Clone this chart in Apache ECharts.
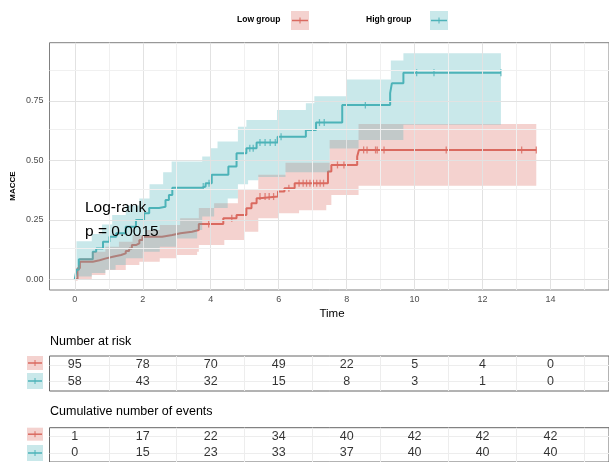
<!DOCTYPE html>
<html>
<head>
<meta charset="utf-8">
<script src="https://cdn.jsdelivr.net/npm/echarts@6.0.0/dist/echarts.min.js"></script>
<style>
  html, body { margin: 0; padding: 0; background: #fff; }
  #main { width: 609px; height: 462px; }
</style>
</head>
<body>
<div id="main"></div>
<script>
// cumulative incidence step curves [time, value]
const lowCurve = [[0,0],[0.08,0.046],[0.15,0.074],[0.53,0.08],[0.73,0.088],[0.92,0.095],[1.12,0.102],[1.36,0.109],[1.5,0.119],[1.6,0.13],[1.68,0.144],[1.8,0.151],[1.9,0.165],[1.99,0.179],[2.57,0.186],[2.87,0.194],[3.11,0.2],[3.45,0.207],[3.65,0.233],[4.37,0.257],[4.76,0.27],[5.05,0.299],[5.2,0.32],[5.35,0.341],[5.44,0.348],[5.98,0.369],[6.17,0.383],[6.47,0.404],[7.45,0.453],[7.55,0.481],[8.31,0.516],[8.36,0.544],[13.58,0.544]];
const highCurve = [[0,0],[0.05,0.04],[0.12,0.084],[0.53,0.116],[0.63,0.13],[0.83,0.158],[1.02,0.179],[1.22,0.194],[1.5,0.221],[1.8,0.249],[2.04,0.278],[2.19,0.3],[2.48,0.305],[2.67,0.334],[2.77,0.355],[2.87,0.385],[3.74,0.39],[3.85,0.404],[4.03,0.44],[4.52,0.474],[4.76,0.53],[5.05,0.551],[5.35,0.575],[5.97,0.6],[6.8,0.628],[7.1,0.659],[7.87,0.733],[9.28,0.783],[9.33,0.824],[9.67,0.869],[12.54,0.869]];

// confidence bands
const lowUpper = [[0,0],[0.1,0.06],[0.15,0.09],[0.5,0.116],[0.9,0.137],[1.3,0.158],[1.7,0.186],[2.1,0.207],[2.5,0.228],[3.1,0.257],[3.65,0.3],[4.1,0.32],[4.8,0.376],[5.4,0.44],[6.2,0.49],[7.5,0.586],[8.35,0.653],[13.58,0.653]];
const lowLower = [[0,0],[0.5,0.018],[0.9,0.039],[1.5,0.06],[1.9,0.074],[2.5,0.088],[3.0,0.102],[3.6,0.116],[3.65,0.144],[4.4,0.165],[5.0,0.2],[5.4,0.257],[6.0,0.278],[6.6,0.29],[7.4,0.312],[7.55,0.355],[8.35,0.393],[13.58,0.393]];
const highUpper = [[0,0],[0.05,0.16],[0.5,0.19],[0.8,0.23],[1.1,0.27],[1.5,0.31],[1.9,0.34],[2.2,0.4],[2.6,0.45],[2.85,0.495],[3.75,0.516],[4.0,0.551],[4.2,0.58],[4.8,0.642],[5.05,0.67],[5.95,0.712],[6.8,0.74],[7.05,0.77],[8.0,0.84],[9.3,0.92],[9.67,0.951],[12.54,0.951]];
const highLower = [[0,0],[0.1,0.012],[0.5,0.026],[0.9,0.04],[1.2,0.06],[1.5,0.088],[2.0,0.116],[2.5,0.137],[3.0,0.172],[3.6,0.207],[3.75,0.264],[4.1,0.3],[4.5,0.34],[4.8,0.4],[5.1,0.417],[5.4,0.43],[6.2,0.45],[7.5,0.55],[8.35,0.586],[9.67,0.65],[12.54,0.65]];

// censored times
const lowCensor = [3.94,4.62,5.45,5.6,5.72,5.85,6.3,6.6,6.72,6.82,6.92,7.02,7.12,7.22,7.32,7.73,7.92,8.5,8.6,8.85,8.9,9.1,10.93,13.15,13.58];
const highCensor = [3.78,3.95,5.15,5.25,5.45,5.6,5.75,5.9,6.07,7.2,7.34,8.55,10.06,10.57,12.54];

// risk tables
const tableTimes = [0,2,4,6,8,10,12,14];
const riskLow = [95,78,70,49,22,5,4,0];
const riskHigh = [58,43,32,15,8,3,1,0];
const eventsLow = [1,17,22,34,40,42,42,42];
const eventsHigh = [0,15,23,33,37,40,40,40];

// axes
const xMajor = [0,2,4,6,8,10,12,14];
const xMinor = [1,3,5,7,9,11,13,15];
const yMajor = [0,0.25,0.5,0.75];
const yMinor = [0.125,0.375,0.625,0.875];

const FONT = "'Liberation Sans', Arial, sans-serif";
const RED = '#DA6A60', TEAL = '#4DB3B8';
const RED_FILL = 'rgba(218,106,96,0.3)', TEAL_FILL = 'rgba(77,179,184,0.3)';
const XMIN = -0.744, XMAX = 15.72;
const YMIN = -0.045, YMAX = 0.995;
const RMIN = 0.46, RMAX = 2.557;

function stepAt(curve, t) {
  let v = curve[0][1];
  for (const p of curve) { if (p[0] <= t) v = p[1]; else break; }
  return v;
}

function bandRender(lower, upper, fill) {
  return function (params, api) {
    const pts = [];
    for (let i = 0; i < upper.length; i++) {
      pts.push(api.coord(upper[i]));
      if (i + 1 < upper.length) pts.push(api.coord([upper[i + 1][0], upper[i][1]]));
    }
    for (let i = lower.length - 1; i >= 0; i--) {
      if (i + 1 < lower.length) pts.push(api.coord([lower[i + 1][0], lower[i][1]]));
      pts.push(api.coord(lower[i]));
    }
    return { type: 'polygon', shape: { points: pts }, style: { fill: fill } };
  };
}

function gridLines(xi, xs, ys, major, minor) {
  return {
    type: 'scatter', xAxisIndex: xi, yAxisIndex: xi, data: [], z: 1, silent: true,
    markLine: {
      silent: true, symbol: ['none', 'none'], label: { show: false }, animation: false,
      lineStyle: { type: 'solid', width: 1 },
      data: xs.map(v => ({ xAxis: v[0], lineStyle: { color: v[1] ? major : minor } }))
        .concat(ys.map(v => ({ yAxis: v[0], lineStyle: { color: v[1] ? major : minor } })))
    }
  };
}

function tableText(gi, row, vals) {
  return {
    type: 'scatter', xAxisIndex: gi, yAxisIndex: gi, symbolSize: 1, z: 5,
    itemStyle: { color: 'rgba(0,0,0,0)' },
    data: tableTimes.map((t, i) => [t, row, vals[i]]),
    label: { show: true, position: 'inside', formatter: p => p.value[2], color: '#000', fontSize: 12.5, fontFamily: FONT }
  };
}

function key(x, y, w, h, fill, color) {
  return {
    type: 'group', children: [
      { type: 'rect', shape: { x: x, y: y, width: w, height: h }, style: { fill: fill } },
      { type: 'line', shape: { x1: x + 1, y1: y + h / 2, x2: x + w - 1, y2: y + h / 2 }, style: { stroke: color, lineWidth: 1.5 } },
      { type: 'line', shape: { x1: x + w / 2, y1: y + h / 2 - 3, x2: x + w / 2, y2: y + h / 2 + 3 }, style: { stroke: color, lineWidth: 1 } }
    ]
  };
}

const chart = echarts.init(document.getElementById('main'), null, { renderer: 'canvas' });

const axisX = (gi, show) => ({
  type: 'value', gridIndex: gi, min: XMIN, max: XMAX,
  axisLine: { show: false }, splitLine: { show: false },
  axisTick: { show: show, customValues: xMajor, length: 3, lineStyle: { color: '#333' } },
  axisLabel: { show: show, customValues: xMajor, color: '#4D4D4D', fontSize: 9, margin: 5, fontFamily: FONT }
});

chart.setOption({
  animation: false,
  grid: [
    { left: 49.5, top: 42.7, width: 564.5, height: 247.3, show: true, borderColor: '#808080', borderWidth: 1 },
    { left: 49.5, top: 356, width: 564.5, height: 35, show: true, borderColor: '#666', borderWidth: 1 },
    { left: 49.5, top: 427.7, width: 564.5, height: 35, show: true, borderColor: '#666', borderWidth: 1 }
  ],
  xAxis: [axisX(0, true), axisX(1, false), axisX(2, false)],
  yAxis: [
    {
      type: 'value', gridIndex: 0, min: YMIN, max: YMAX,
      axisLine: { show: false }, splitLine: { show: false },
      axisTick: { customValues: yMajor, length: 3, lineStyle: { color: '#333' } },
      axisLabel: { customValues: yMajor, formatter: v => v.toFixed(2), color: '#4D4D4D', fontSize: 9, margin: 6, fontFamily: FONT }
    },
    { type: 'value', gridIndex: 1, min: RMIN, max: RMAX, inverse: true, show: false },
    { type: 'value', gridIndex: 2, min: RMIN, max: RMAX, inverse: true, show: false }
  ],
  series: [
    gridLines(0, xMajor.map(v => [v, 1]).concat(xMinor.map(v => [v, 0])),
      yMajor.map(v => [v, 1]).concat(yMinor.map(v => [v, 0])), '#E2E2E2', '#F0F0F0'),
    gridLines(1, xMinor.map(v => [v, 0]), [[1, 1], [2, 1]], '#EDEDED', '#EDEDED'),
    gridLines(2, xMinor.map(v => [v, 0]), [[1, 1], [2, 1]], '#EDEDED', '#EDEDED'),
    {
      name: 'Low group', type: 'line', step: 'end', data: lowCurve, showSymbol: false, z: 2,
      lineStyle: { color: RED, width: 2 }
    },
    {
      name: 'High group', type: 'line', step: 'end', data: highCurve, showSymbol: false, z: 2,
      lineStyle: { color: TEAL, width: 2 }
    },
    {
      type: 'scatter', symbol: 'rect', symbolSize: [1.3, 7], z: 2,
      itemStyle: { color: RED }, data: lowCensor.map(t => [t, stepAt(lowCurve, t)])
    },
    {
      type: 'scatter', symbol: 'rect', symbolSize: [1.3, 7], z: 2,
      itemStyle: { color: TEAL }, data: highCensor.map(t => [t, stepAt(highCurve, t)])
    },
    { type: 'custom', data: [[0, 0]], z: 3, silent: true, renderItem: bandRender(lowLower, lowUpper, RED_FILL) },
    { type: 'custom', data: [[0, 0]], z: 4, silent: true, renderItem: bandRender(highLower, highUpper, TEAL_FILL) },
    tableText(1, 1, riskLow),
    tableText(1, 2, riskHigh),
    tableText(2, 1, eventsLow),
    tableText(2, 2, eventsHigh)
  ],
  graphic: [
    { type: 'text', left: 237, top: 15, style: { text: 'Low group', font: 'bold 8.5px ' + FONT, fill: '#000' } },
    key(291, 11, 18, 19, RED_FILL, RED),
    { type: 'text', left: 366, top: 15, style: { text: 'High group', font: 'bold 8.5px ' + FONT, fill: '#000' } },
    key(430, 11, 18, 19, TEAL_FILL, TEAL),
    { type: 'text', x: 13, y: 186, rotation: Math.PI / 2, style: { text: 'MACCE', font: 'bold 8px ' + FONT, fill: '#000', align: 'center', verticalAlign: 'middle' } },
    { type: 'text', x: 332, y: 314, style: { text: 'Time', font: '11.5px ' + FONT, fill: '#000', align: 'center', verticalAlign: 'middle' } },
    { type: 'text', x: 85, y: 208, z: 10, style: { text: 'Log-rank', font: '15.5px ' + FONT, fill: '#000', verticalAlign: 'middle' } },
    { type: 'text', x: 85, y: 231.7, z: 10, style: { text: 'p = 0.0015', font: '15.5px ' + FONT, fill: '#000', verticalAlign: 'middle' } },
    { type: 'text', x: 50, y: 342, style: { text: 'Number at risk', font: '12.5px ' + FONT, fill: '#000', verticalAlign: 'middle' } },
    { type: 'text', x: 50, y: 412, style: { text: 'Cumulative number of events', font: '12.5px ' + FONT, fill: '#000', verticalAlign: 'middle' } },
    key(27, 356, 16, 14, RED_FILL, RED),
    key(27, 373, 16, 16, TEAL_FILL, TEAL),
    key(27, 427.7, 16, 13, RED_FILL, RED),
    key(27, 445, 16, 16, TEAL_FILL, TEAL)
  ]
});
</script>
</body>
</html>
